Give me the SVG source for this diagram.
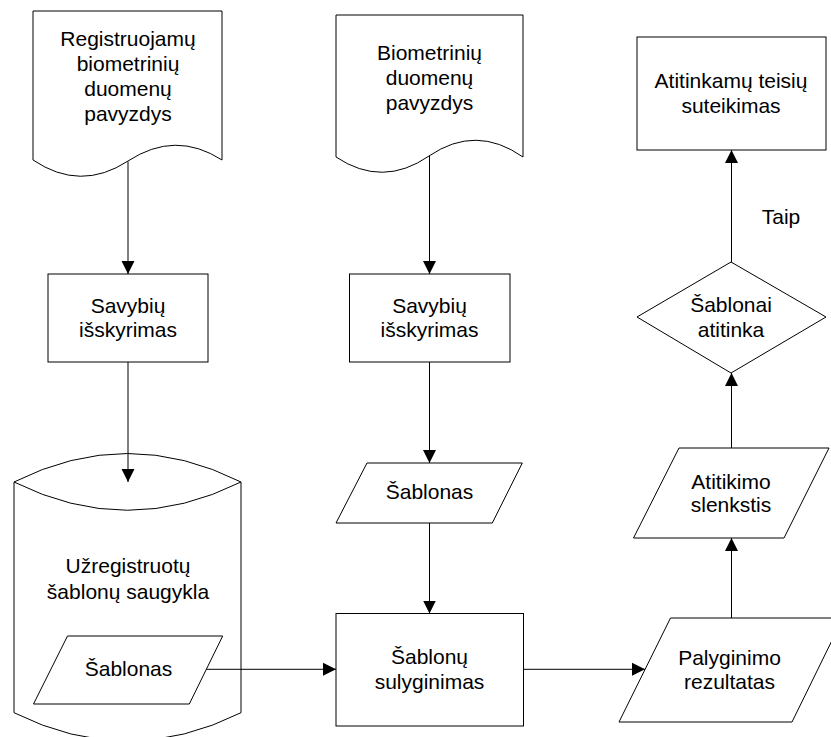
<svg xmlns="http://www.w3.org/2000/svg" width="831" height="737" viewBox="0 0 831 737">
<style>
.s{fill:#fff;stroke:#000;stroke-width:1}
.c{fill:none;stroke:#000;stroke-width:1}
text{font-family:"Liberation Sans",Arial,sans-serif;font-size:21px;fill:#000;text-anchor:middle}
</style>
<defs>
<marker id="a" markerWidth="14" markerHeight="14" refX="13" refY="7" orient="auto" markerUnits="userSpaceOnUse">
<path d="M0,0.5 L13,7 L0,13.5 z" fill="#000"/>
</marker>
</defs>
<rect width="831" height="737" fill="#fff"/>
<g id="doc1">
<path class="s" d="M33,11 H222 V160 Q175.5,130 128,161 Q80.5,192 33,160 Z"/>
<text x="128" y="46">Registruojamų</text>
<text x="128" y="71">biometrinių</text>
<text x="128" y="96">duomenų</text>
<text x="128" y="121">pavyzdys</text>
</g>
<g id="doc2">
<path class="s" d="M336,15 H523 V157 Q476,124 429,156 Q382.5,188 336,157 Z"/>
<text x="429.5" y="59.5">Biometrinių</text>
<text x="429.5" y="84.5">duomenų</text>
<text x="429.5" y="109.5">pavyzdys</text>
</g>
<g id="rights">
<rect class="s" x="637" y="37" width="189" height="113"/>
<text x="731" y="87.5">Atitinkamų teisių</text>
<text x="731" y="112.5">suteikimas</text>
</g>
<g id="feat1">
<rect class="s" x="48" y="274" width="160" height="88"/>
<text x="128" y="312.5">Savybių</text>
<text x="128" y="336.5">išskyrimas</text>
</g>
<g id="feat2">
<rect class="s" x="349.5" y="274" width="160.5" height="88"/>
<text x="429.5" y="312.5">Savybių</text>
<text x="429.5" y="336.5">išskyrimas</text>
</g>
<g id="decision">
<path class="s" d="M731,262 L826,317 L731,373 L637,317 Z"/>
<text x="731" y="311.5">Šablonai</text>
<text x="731" y="336.5">atitinka</text>
</g>
<g id="storage">
<path class="s" d="M14,482 Q127.5,425 241,482 V712.7 Q127.5,769.3 14,712.7 Z"/>
<path class="c" d="M14,482 Q127.5,538.5 241,482"/>
<text x="128" y="572.5">Užregistruotų</text>
<text x="128" y="599">šablonų saugykla</text>
</g>
<g id="tpl1">
<path class="s" d="M67.5,636 H222.7 L189.3,704 H33.5 Z"/>
<text x="128.5" y="676">Šablonas</text>
</g>
<g id="tpl2">
<path class="s" d="M367,463 H522.3 L492.3,523 H336 Z"/>
<text x="429.5" y="499">Šablonas</text>
</g>
<g id="threshold">
<path class="s" d="M679,448 H829 L784,538 H633.5 Z"/>
<text x="731" y="488.5">Atitikimo</text>
<text x="731" y="512">slenkstis</text>
</g>
<g id="compare">
<rect class="s" x="336" y="613.5" width="187.5" height="112.5"/>
<text x="429.5" y="664">Šablonų</text>
<text x="429.5" y="688.5">sulyginimas</text>
</g>
<g id="result">
<path class="s" d="M670.5,618 H843 L792,722 H619 Z"/>
<text x="729.5" y="664.5">Palyginimo</text>
<text x="729.5" y="688.5">rezultatas</text>
</g>
<g id="label-taip">
<text x="781" y="224">Taip</text>
</g>
<g id="connectors">
<path class="c" d="M128,161.5 V274" marker-end="url(#a)"/>
<path class="c" d="M429.5,156 V274" marker-end="url(#a)"/>
<path class="c" d="M128,362 V482" marker-end="url(#a)"/>
<path class="c" d="M429.5,362 V463" marker-end="url(#a)"/>
<path class="c" d="M429.5,523 V613.5" marker-end="url(#a)"/>
<path class="c" d="M206.3,669.3 H336" marker-end="url(#a)"/>
<path class="c" d="M523.5,669.3 H645" marker-end="url(#a)"/>
<path class="c" d="M731.5,618 V538" marker-end="url(#a)"/>
<path class="c" d="M731.5,448 V373" marker-end="url(#a)"/>
<path class="c" d="M731.5,262 V150" marker-end="url(#a)"/>
</g>
</svg>
